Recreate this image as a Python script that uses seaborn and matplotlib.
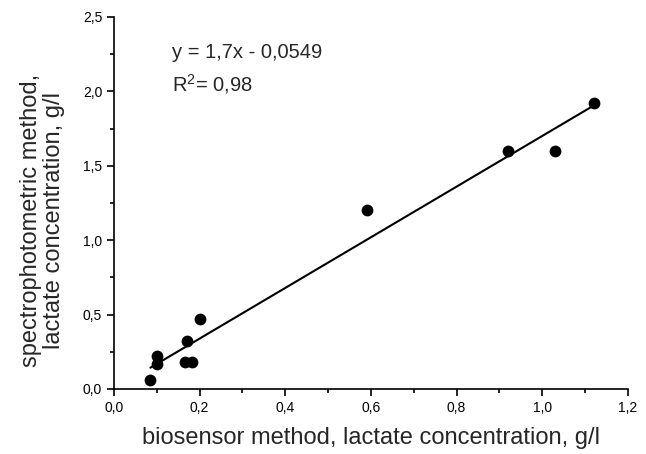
import matplotlib
matplotlib.use("Agg")
import matplotlib.pyplot as plt
import seaborn as sns
import pandas as pd
from matplotlib.ticker import MultipleLocator, FuncFormatter

biosensor = [0.085, 0.10, 0.10, 0.165, 0.183, 0.17, 0.20, 0.59, 0.92, 1.03, 1.12]
spectro = [0.06, 0.22, 0.17, 0.18, 0.18, 0.32, 0.47, 1.20, 1.60, 1.60, 1.92]
eq_text = "y = 1,7x - 0,0549"
r2_text = "R$^{\\mathregular{2}}$= 0,98"
xlabel = "biosensor method, lactate concentration, g/l"
ylabel = "spectrophotometric method,\nlactate concentration, g/l"

df = pd.DataFrame({"x": biosensor, "y": spectro})

sns.set_theme(style="ticks")
plt.rcParams["font.family"] = ["Liberation Sans", "DejaVu Sans"]
plt.rcParams["mathtext.fontset"] = "custom"
plt.rcParams["mathtext.rm"] = "Liberation Sans"

fig = plt.figure(figsize=(6.46, 4.54), dpi=100)
ax = fig.add_axes([0.1765, 0.1432, 0.7955, 0.8194])

sns.regplot(data=df, x="x", y="y", ax=ax, ci=None, truncate=True,
            scatter_kws=dict(s=72, color="black", edgecolor="black", linewidths=0, alpha=1, zorder=3),
            line_kws=dict(color="black", lw=1.5))

ax.set_xlim(0, 1.2)
ax.set_ylim(0, 2.5)
ax.xaxis.set_major_locator(MultipleLocator(0.2))
ax.xaxis.set_minor_locator(MultipleLocator(0.1))
ax.yaxis.set_major_locator(MultipleLocator(0.5))
ax.yaxis.set_minor_locator(MultipleLocator(0.25))
fmt = FuncFormatter(lambda v, p: f"{v:.1f}".replace(".", ","))
ax.xaxis.set_major_formatter(fmt)
ax.yaxis.set_major_formatter(fmt)
ax.tick_params(which="major", direction="out", length=5, width=1.2, pad=3.5, labelsize=10, color="black", labelcolor="black")
ax.tick_params(which="minor", direction="out", length=3, width=1.2, color="black")
for s in ["top", "right"]:
    ax.spines[s].set_visible(False)
for s in ["left", "bottom"]:
    ax.spines[s].set_linewidth(1.2)
    ax.spines[s].set_color("black")

ax.set_xlabel(xlabel, fontsize=17, labelpad=9)
ax.set_ylabel(ylabel, fontsize=17, linespacing=1.05)
ax.yaxis.set_label_coords(-0.095, 0.454)

ax.text(0.135, 2.26, eq_text, fontsize=14.5, va="center", ha="left")
ax.text(0.135, 2.05, r2_text, fontsize=14.5, va="center", ha="left")

fig.savefig("out.png", dpi=100)
